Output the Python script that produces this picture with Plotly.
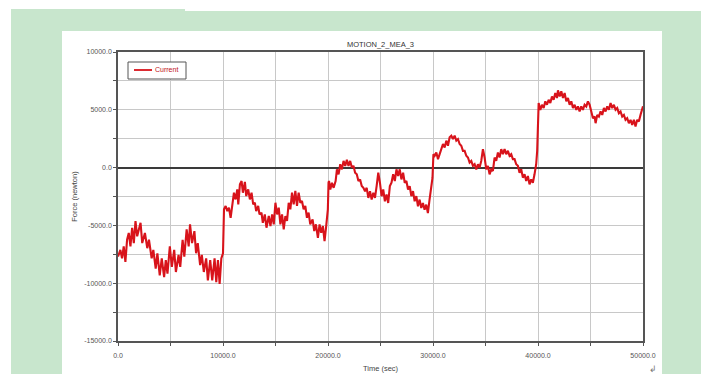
import plotly.graph_objects as go

# Force history of MOTION_2_MEA_3, one list pair per 10000 s stage
t_stage1 = [0, 224, 385, 545, 705, 865, 1026, 1186, 1346, 1506, 1667, 1827, 2147, 2308,
            2564, 2788, 2949, 3205, 3365, 3590, 3750, 3974, 4167, 4391, 4551, 4711, 4936,
            5128, 5352, 5513, 5769, 5929, 6154, 6314, 6538, 6731, 6859, 7051, 7276, 7436,
            7596, 7821, 7981, 8173, 8397, 8558, 8782, 8974, 9198, 9359, 9519, 9679, 9840, 10000]
f_stage1 = [-7700, -7120, -7850, -6820, -8150, -6240, -5650, -6820, -5210, -6530, -4620, -5940,
            -4770, -6530, -5650, -6970, -6240, -7850, -7120, -8730, -7410, -9320, -7850, -9470,
            -8000, -9180, -6820, -8590, -7120, -9030, -7560, -8590, -6240, -7710, -5350, -6820,
            -4910, -6530, -5500, -7410, -6530, -8440, -7560, -9030, -7850, -9760, -8000, -9760,
            -7850, -9910, -8000, -10060, -7850, -7410]

t_stage2 = [10095, 10253, 10411, 10569, 10727, 10885, 11043, 11201, 11359, 11454, 11612, 11770,
            11896, 12086, 12212, 12402, 12560, 12718, 12876, 13034, 13160, 13350, 13476, 13666,
            13792, 13982, 14140, 14361, 14519, 14677, 14835, 14993, 15151, 15309, 15467, 15625,
            15783, 15941, 16099, 16257, 16415, 16573, 16731, 16889, 17047, 17205, 17363, 17521,
            17679, 17837, 17995, 18153, 18311, 18532, 18690, 18848, 19038, 19196, 19354, 19512,
            19670, 19828, 19986]
f_stage2 = [-3610, -3320, -3760, -3470, -4340, -3180, -2170, -2750, -1880, -3180, -1450, -1160,
            -2170, -1240, -2460, -1880, -2750, -2170, -3180, -3040, -3760, -3320, -4050, -3900,
            -4770, -4050, -5200, -4190, -5060, -4050, -4910, -3040, -4050, -3470, -4910, -4050,
            -5350, -4190, -4620, -3040, -3610, -2170, -3180, -2020, -3320, -2170, -3040, -2890,
            -3610, -3320, -4340, -3900, -4910, -4480, -5490, -4910, -6070, -4910, -5640, -5060,
            -6360, -5060, -3610]

t_stage3 = [20050, 20095, 20220, 20378, 20536, 20725, 20851, 21008, 21166, 21323, 21481, 21638,
            21796, 21953, 22111, 22268, 22426, 22583, 22741, 22898, 23056, 23213, 23371, 23528,
            23686, 23843, 24001, 24158, 24316, 24473, 24631, 24788, 24946, 25103, 25261, 25418,
            25576, 25733, 25891, 26048, 26206, 26363, 26521, 26678, 26836, 26993, 27151, 27308,
            27466, 27623, 27781, 27938, 28096, 28253, 28411, 28568, 28726, 28883, 29041, 29198,
            29356, 29513, 29671, 29797, 29950]
f_stage3 = [-1310, -1160, -1890, -1310, -1750, -1160, -150, -580, 290, -150, 580, 150,
            670, 150, 580, 0, 150, -440, -580, -1160, -1020, -1600, -1750, -2040,
            -1750, -2620, -2040, -2770, -2180, -2620, -1600, -440, -1310, -2470, -1890, -2910,
            -2330, -3060, -1600, -1310, -580, -1160, -150, -730, -150, -1020, -440, -1310,
            -1160, -1890, -1600, -2470, -2040, -2910, -2470, -3350, -2770, -3490, -3060, -3640,
            -3200, -3930, -2770, -1890, -900]

t_stage4 = [30040, 30159, 30317, 30476, 30634, 30793, 30951, 31110, 31268, 31427, 31585, 31744,
            31902, 32061, 32219, 32378, 32536, 32695, 32853, 33012, 33170, 33329, 33487, 33646,
            33804, 33963, 34121, 34280, 34438, 34597, 34755, 34914, 35072, 35231, 35389, 35548,
            35706, 35865, 36023, 36182, 36340, 36499, 36657, 36816, 36974, 37133, 37291, 37450,
            37608, 37767, 37925, 38084, 38242, 38401, 38559, 38718, 38876, 39035, 39193, 39352,
            39510, 39669, 39827, 39922]
f_stage4 = [1160, 1020, 1310, 730, 1160, 1600, 2040, 1740, 2330, 1890, 2620, 2760,
            2470, 2760, 2330, 2470, 2040, 1890, 1450, 1450, 1020, 870, 440, 580,
            150, 290, -150, 290, 0, 580, 1600, 870, -150, 150, -580, -150,
            -290, 870, 580, 1310, 870, 1600, 1160, 1600, 1160, 1450, 1020, 1160,
            730, 730, 290, 150, -440, -150, -870, -580, -1160, -730, -1450, -1020,
            -1310, -580, 290, 1450]

t_stage5 = [40030, 40063, 40222, 40380, 40539, 40697, 40856, 41014, 41173, 41331, 41490, 41648,
            41807, 41902, 42061, 42219, 42378, 42536, 42695, 42853, 43012, 43170, 43329, 43487,
            43646, 43804, 43963, 44121, 44280, 44438, 44597, 44755, 44914, 45072, 45231, 45389,
            45484, 45643, 45801, 45960, 46118, 46277, 46435, 46594, 46752, 46911, 47069, 47228,
            47386, 47545, 47703, 47862, 48020, 48179, 48337, 48496, 48654, 48813, 48971, 49130,
            49288, 49447, 49605, 49764, 49922, 50000]
f_stage5 = [5440, 5580, 5000, 5440, 5150, 5730, 5440, 5870, 5580, 6160, 5870, 6450,
            6020, 6690, 6160, 6600, 6020, 6450, 5730, 6020, 5440, 5730, 5150, 5440,
            5000, 5290, 4860, 5290, 5000, 5440, 5290, 5730, 5440, 4860, 4270, 4420,
            3840, 4560, 4420, 4860, 4560, 5150, 4860, 5290, 5000, 5580, 5150, 5440,
            5000, 5150, 4710, 4860, 4420, 4560, 4130, 4270, 3840, 4130, 3690, 4130,
            3550, 4130, 3980, 4560, 5150, 5300]

time_s = t_stage1 + t_stage2 + t_stage3 + t_stage4 + t_stage5
force_n = f_stage1 + f_stage2 + f_stage3 + f_stage4 + f_stage5

x_ticks = [0, 10000, 20000, 30000, 40000, 50000]
x_labels = ["0.0", "10000.0", "20000.0", "30000.0", "40000.0", "50000.0"]
y_ticks = [-15000, -10000, -5000, 0, 5000, 10000]
y_labels = ["-15000.0", "-10000.0", "-5000.0", "0.0", "5000.0", "10000.0"]
series_name = "Current"

W, H = 701, 374
L, R, T, B = 118, 643, 52, 341  # plot area edges in pixels


def px_x(px):
    return (px - L) / (R - L)


def px_y(py):
    return (B - py) / (B - T)


def rect(x0, y0, x1, y1, fill):
    return dict(type="rect", xref="paper", yref="paper", layer="below",
                x0=px_x(x0), x1=px_x(x1), y0=px_y(y1), y1=px_y(y0),
                fillcolor=fill, line=dict(width=0))


GREEN = "#c8e6cd"
GRID = "#c8c8c8"
AXIS = "#555555"
RED = "#d8131b"
FONT = "Liberation Sans, Arial, sans-serif"

fig = go.Figure()
fig.add_trace(go.Scatter(
    x=time_s, y=force_n, mode="lines", name=series_name,
    line=dict(color=RED, width=2.1), showlegend=False,
))

shapes = [
    # green frame around the white chart page
    rect(11, 11, 701, 31, GREEN),
    rect(11, 9, 185, 12, GREEN),
    rect(11, 11, 62, 374, GREEN),
    rect(662, 11, 701, 374, GREEN),
    # legend box with its line sample
    dict(type="rect", xref="paper", yref="paper",
         x0=px_x(128), x1=px_x(186), y0=px_y(79), y1=px_y(62),
         fillcolor="white", line=dict(color=AXIS, width=1)),
    dict(type="line", xref="paper", yref="paper",
         x0=px_x(134), x1=px_x(152), y0=px_y(70), y1=px_y(70),
         line=dict(color=RED, width=1.8)),
]

axis_common = dict(
    showgrid=True, gridcolor=GRID, gridwidth=1,
    ticks="outside", ticklen=3, tickcolor=AXIS,
    showline=True, linecolor=AXIS, linewidth=1.5, mirror=True,
    automargin=False,
    tickfont=dict(size=7, color="#555555"),
)

fig.update_layout(
    width=W, height=H,
    margin=dict(l=L, r=W - R, t=T, b=H - B, pad=0, autoexpand=False),
    paper_bgcolor="white",
    plot_bgcolor="white",
    font=dict(family=FONT, size=7, color="#444444"),
    shapes=shapes,
    showlegend=False,
    title=dict(text="MOTION_2_MEA_3", x=px_x(380.5), xref="paper",
               y=1 - 44 / H, yref="container", xanchor="center", yanchor="middle",
               font=dict(size=7.5, color="#333333")),
    xaxis=dict(
        range=[0, 50000], tickmode="array", tickvals=x_ticks, ticktext=x_labels,
        minor=dict(dtick=5000, tick0=0, showgrid=True, gridcolor=GRID,
                   ticks="outside", ticklen=3, tickcolor=AXIS),
        zeroline=False, ticklabelstandoff=4,
        title=dict(text="Time (sec)", standoff=8, font=dict(size=7.5, color="#444444")),
        **axis_common,
    ),
    yaxis=dict(
        range=[-15000, 10000], tickmode="array", tickvals=y_ticks, ticktext=y_labels,
        minor=dict(dtick=2500, tick0=0, showgrid=True, gridcolor=GRID,
                   ticks="outside", ticklen=3, tickcolor=AXIS),
        zeroline=True, zerolinecolor="#3a3a3a", zerolinewidth=1.5,
        title=dict(text="Force (newton)", standoff=6, font=dict(size=7.5, color="#444444")),
        **axis_common,
    ),
    annotations=[
        dict(text=series_name, xref="paper", yref="paper", x=px_x(153), y=px_y(70),
             xanchor="left", yanchor="middle", showarrow=False,
             font=dict(size=7, color="#c0101a")),
        dict(text="\u21b2", xref="paper", yref="paper", x=px_x(653), y=px_y(369),
             xanchor="center", yanchor="middle", showarrow=False,
             font=dict(size=9, color="#777777")),
    ],
)

fig.write_html("out.html")
